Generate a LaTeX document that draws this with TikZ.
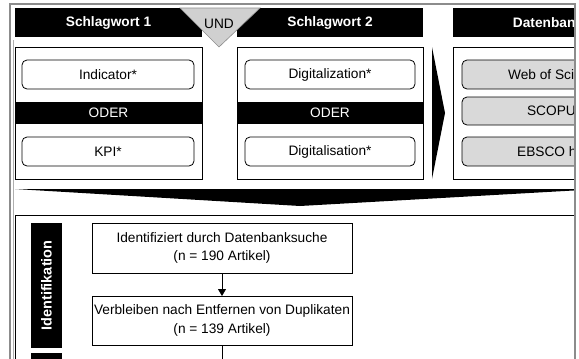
\documentclass[tikz,border=0pt]{standalone}
\usepackage{fontspec}
\setmainfont{Liberation Sans}
\usetikzlibrary{arrows.meta}
\definecolor{dbgray}{HTML}{D9D9D9}
\definecolor{undgray}{HTML}{D0D0D0}
\definecolor{framegray}{HTML}{8C8C8C}
\begin{document}
\begin{tikzpicture}[x=1pt,y=-1pt,
  every node/.style={inner sep=0pt, outer sep=0pt, font=\fontsize{13.7}{18.5}\selectfont},
  hdr/.style={fill=black, text=white, font=\fontsize{13.7}{18.5}\selectfont\bfseries, minimum height=29pt},
  panel/.style={draw=black, line width=0.8pt, minimum height=132pt},
  term/.style={draw=black, line width=0.8pt, rounded corners=5pt, minimum height=29pt},
  dbterm/.style={term, fill=dbgray},
  oder/.style={fill=black, text=white, minimum height=22pt},
  stagebox/.style={draw=black, line width=0.8pt, minimum width=260pt, align=center},
  phase/.style={fill=black, text=white, font=\fontsize{14.5}{18}\selectfont\bfseries, minimum height=31pt, rotate=90},
  frame/.style={draw=framegray, line width=1.2pt},
  flow/.style={line width=0.8pt, -{Triangle[length=7pt,width=8pt]}}
]
\useasboundingbox (0,0) rectangle (579,359);

\begin{scope}
\clip (0,0) rectangle (575,359);

% keyword headers
\node[hdr, minimum width=187pt] (h1) at (108.5,22.5) {Schlagwort 1};
\node[hdr, minimum width=186pt] (h2) at (330,22.5) {Schlagwort 2};
\node[hdr, minimum width=206pt] (h3) at (556,22.5) {Datenbanken};

% AND marker between the keyword groups
\draw[fill=undgray, draw=framegray, line width=0.6pt] (180,8) -- (260,8) -- (219,47) -- cycle;
\node (und) at (219,23.5) {UND};

% panels
\node[panel, minimum width=187pt] (p1) at (108.5,113) {};
\node[panel, minimum width=186pt] (p2) at (330,113) {};
\node[panel, minimum width=206pt] (p3) at (556,113) {};

% keyword group 1
\node[term, minimum width=172pt] (t11) at (108,74.5) {Indicator*};
\node[oder, minimum width=187pt] (o1) at (108.5,113) {ODER};
\node[term, minimum width=172pt] (t12) at (108,151.5) {KPI*};

% keyword group 2
\node[term, minimum width=170pt] (t21) at (330,74.5) {Digitalization*};
\node[oder, minimum width=186pt] (o2) at (330,113) {ODER};
\node[term, minimum width=170pt] (t22) at (330,151.5) {Digitalisation*};

% databases
\node[dbterm, minimum width=188pt] (d1) at (556,74.5) {Web of Science};
\node[dbterm, minimum width=188pt, minimum height=28pt] (d2) at (556,111) {SCOPUS};
\node[dbterm, minimum width=188pt] (d3) at (556,151.5) {EBSCO host};

% arrows between sections
\fill[black] (432,47) -- (445,113) -- (432,179) -- cycle;
\fill[black] (15,189) -- (600,189) -- (300,206) -- cycle;

% selection flow
\draw[black, line width=0.8pt] (15,215) rectangle (700,420);
\node[phase, minimum width=125pt] (ph1) at (46.5,285.5) {Identifikation};
\fill[black] (31,353) rectangle (62,400);

\node[stagebox, minimum height=50pt] (s1) at (222,248) {Identifiziert durch Datenbanksuche\\(n = 190 Artikel)};
\node[stagebox, minimum height=49pt] (s2) at (222,320.5) {Verbleiben nach Entfernen von Duplikaten\\(n = 139 Artikel)};
\coordinate (s2out) at (222,370);
\draw[flow] (s1) -- (s2);
\draw[line width=0.8pt] (s2) -- (s2out);
\end{scope}

% outer frame
\draw[frame] (10,365) -- (10,4) -- (575,4) -- (575,365);
\draw[draw=framegray!70, line width=0.8pt] (13,40) -- (13,365);
\end{tikzpicture}
\end{document}
